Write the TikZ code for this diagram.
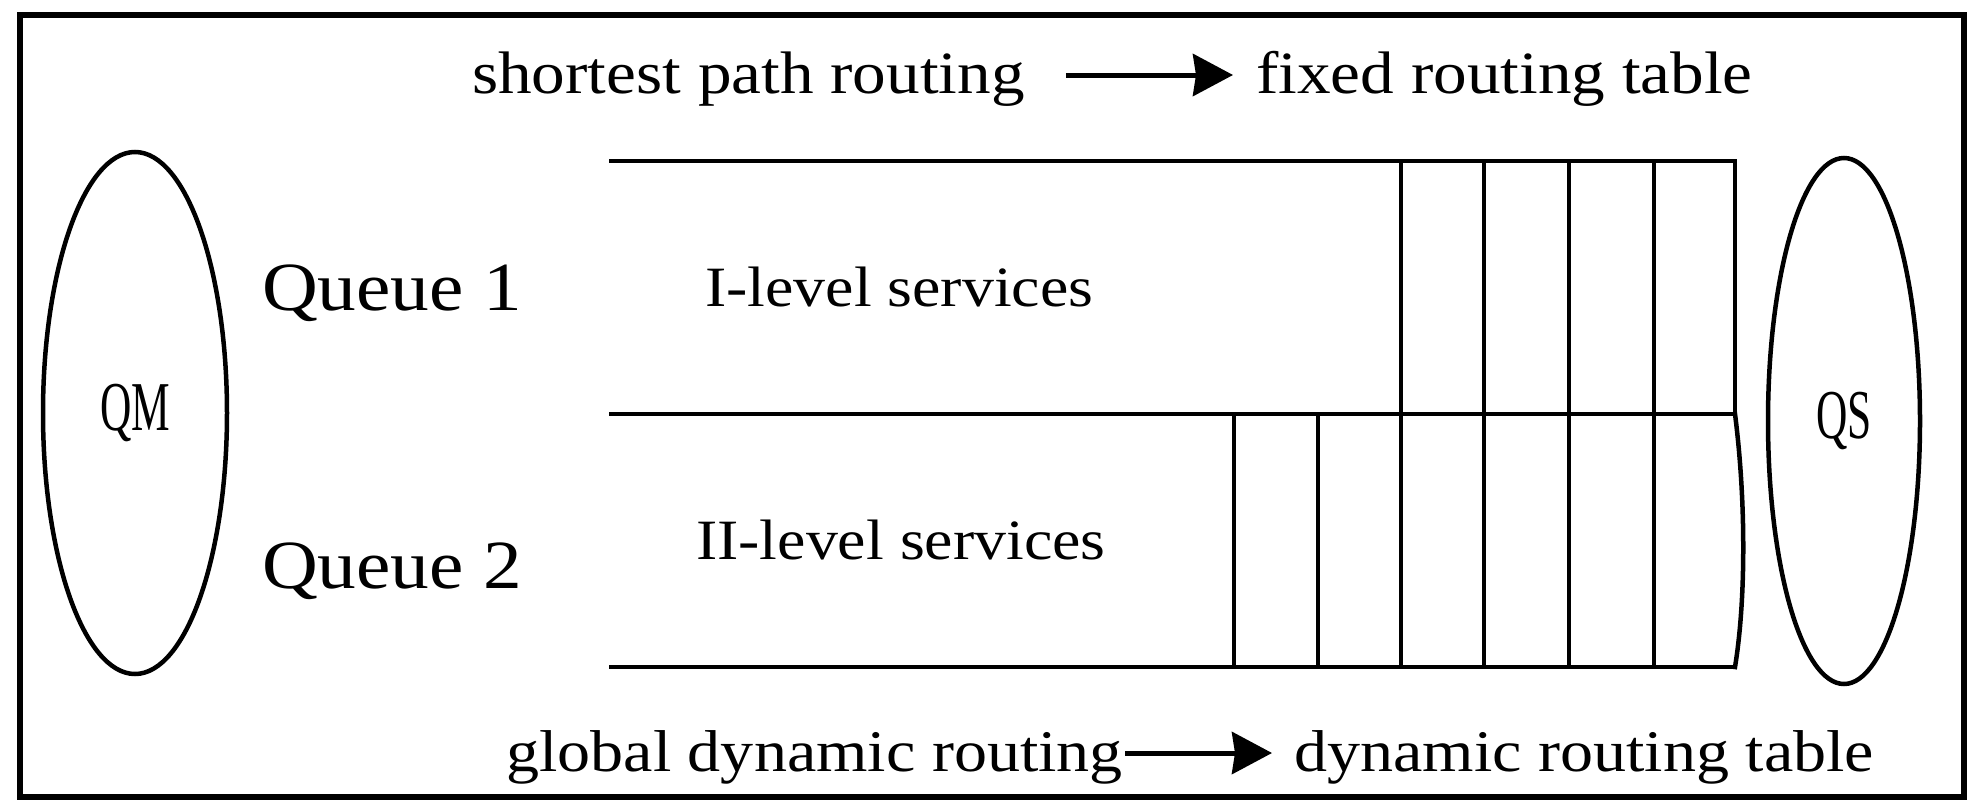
\documentclass[tikz,border=0pt]{standalone}
\usepackage{fontspec}
\setmainfont[FakeStretch=1.12]{Liberation Serif}
\newfontfamily\qfont{Liberation Serif}
\usetikzlibrary{arrows.meta,shapes.geometric}
\tikzset{
  ln/.style={line width=4.5pt, line cap=rect},
  frame/.style={line width=5.5pt},
  big/.style={font=\fontsize{69}{69}\selectfont, inner sep=0pt, anchor=base west},
  txt/.style={font=\fontsize{60}{60}\selectfont, inner sep=0pt, anchor=base west, text height=44pt, text depth=8pt},
  btxt/.style={txt, font=\fontsize{59}{59}\selectfont},
  svc/.style={font=\fontsize{57}{57}\selectfont, inner sep=0pt, anchor=base west},
  oval/.style={draw, ellipse, line width=4.5pt, inner sep=0pt},
  arr/.style={line width=5pt, -{Stealth[length=40pt,width=42pt,inset=3pt]}},
}
\begin{document}
\begin{tikzpicture}[x=1pt,y=-1pt]
\useasboundingbox (0,0) rectangle (1984,811);
\draw[frame] (20,15) rectangle (1964,797);
% ellipses
\node[oval, minimum width=184pt, minimum height=522pt] (qm) at (135,413) {\scalebox{0.62}[1]{\qfont\fontsize{70}{70}\selectfont QM}};
\node[oval, minimum width=152pt, minimum height=526pt] (qs) at (1844,421) {\scalebox{0.62}[1]{\qfont\fontsize{70}{70}\selectfont QS}};
% queue labels
\node[big] (q1) at (262,310) {Queue 1};
\node[big] (q2) at (262,588) {Queue 2};
\node[svc] (l1) at (705,306) {I-level services};
\node[svc] (l2) at (696,559) {II-level services};
% routing texts
\node[txt] (sp) at (472,93) {shortest path routing};
\node[txt] (fr) at (1256,93) {fixed routing table};
\node[btxt] (gd) at (506,771) {global dynamic routing};
\node[btxt] (dr) at (1294,771) {dynamic routing table};
\draw[arr, shorten <=41pt, shorten >=23pt] (sp.east) -- (fr.west);
\draw[arr, shorten <=2pt, shorten >=22pt] (gd.east) -- (dr.west);
% queue structure
\draw[ln] (611,161) -- (1735,161) -- (1735,414);
\draw[ln] (611,414) -- (1735,414);
\draw[ln] (611,667) -- (1735,667);
\draw[ln] (1735,414) .. controls (1746,500) and (1746,600) .. (1735,667);
\foreach \x in {1401,1484,1569,1654} \draw[ln] (\x,161) -- (\x,414);
\foreach \x in {1234,1318,1401,1484,1569,1654} \draw[ln] (\x,414) -- (\x,667);
\end{tikzpicture}
\end{document}
